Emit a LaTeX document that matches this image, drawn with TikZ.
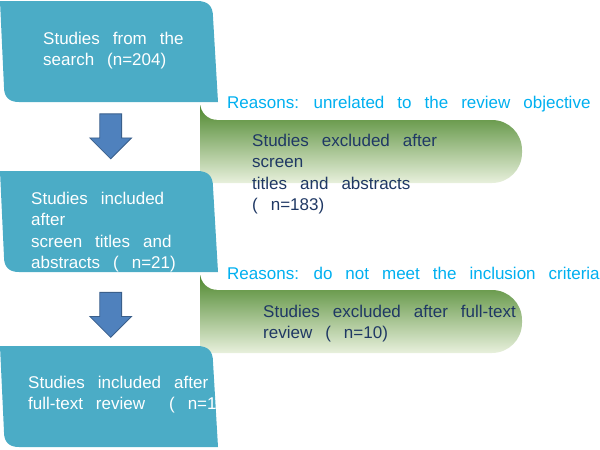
\documentclass[tikz,border=0pt]{standalone}
\usepackage{fontspec}
\setmainfont{Liberation Sans}
\usetikzlibrary{positioning, shapes.arrows}

\definecolor{cardblue}{HTML}{4BACC6}
\definecolor{arrowblue}{HTML}{4F81BD}
\definecolor{arrowline}{HTML}{3A5F8B}
\definecolor{leafdark}{RGB}{78,136,46}
\definecolor{leaflight}{RGB}{232,240,220}
\definecolor{reasonblue}{HTML}{00B0F0}
\definecolor{navytext}{HTML}{1F3864}

\newcommand{\flowfont}{\fontsize{17pt}{21.5pt}\selectfont\spaceskip=13pt plus 2pt minus 1pt\relax}

% outlines drawn from the north west corner of a named node
\newcommand{\cardshape}[1]{%
  \fill[cardblue, shift={(#1.north west)}] (0,0) -- (197,0) .. controls (208,0) and (213,5) .. (213,16)
    -- (218,101) -- (19,101) .. controls (9,101) and (4,96) .. (4,86) -- cycle;}
\newcommand{\leafshape}[1]{%
  \shade[top color=leafdark, bottom color=leaflight, shift={(#1.north west)}] (0,0) -- (30,0) -- (30,15)
    -- (292,15) .. controls (308.6,15) and (322,28.4) .. (322,45) -- (322,48)
    .. controls (322,64.6) and (308.6,78) .. (292,78) -- (8,78)
    .. controls (3.6,78) and (0,74.4) .. (0,70) -- cycle;}

\tikzset{
  card/.style       = {minimum width=218pt, minimum height=101pt, inner sep=0pt, anchor=north west},
  leaf/.style       = {minimum width=322pt, minimum height=78pt, inner sep=0pt, anchor=north west},
  reason/.style     = {fill=white, rounded corners=17pt, minimum height=32pt, inner xsep=27pt, inner ysep=0pt,
                       anchor=south west, text=reasonblue, font=\flowfont},
  flowtext/.style   = {align=left, inner sep=0pt, font=\flowfont},
  blockarrow/.style = {single arrow, shape border rotate=270, minimum height=45pt, inner xsep=10.5pt, inner ysep=0pt,
                       single arrow head extend=10pt, fill=arrowblue, draw=arrowline, line width=0.8pt}
}

\begin{document}
\begin{tikzpicture}[x=1pt, y=-1pt]
  \useasboundingbox (0,0) rectangle (600,450);

  \node[leaf] (excl1) at (200,105) {};
  \node[leaf] (excl2) at (200,275) {};
  \leafshape{excl1}
  \leafshape{excl2}
  \node[reason, above right=-15pt and 0pt of excl1.north west] (why1) {Reasons: unrelated to the review objective};
  \node[reason, above right=-15pt and 0pt of excl2.north west] (why2) {Reasons: do not meet the inclusion criteria};

  \node[card] (search)   at (0,1)   {};
  \node[card] (screened) at (0,171) {};
  \node[card] (included) at (0,346) {};
  \cardshape{search}
  \cardshape{screened}
  \cardshape{included}

  \node[blockarrow] (go1) at ([xshift=1.5pt, yshift=-28.5pt]search.south) {};
  \node[blockarrow] (go2) at ([xshift=1.5pt, yshift=-37pt]screened.south) {};

  \node[flowtext, text=white, below right=30.6pt and 43pt of search.north west] (searchtxt)
    {Studies from the\\search (n=204)};
  \node[flowtext, text=white, below right=20.6pt and 31pt of screened.north west] (screenedtxt)
    {Studies included\\after\\screen titles and\\abstracts ( n=21)};
  \node[flowtext, text=white, below right=29.6pt and 28pt of included.north west] (includedtxt)
    {Studies included after\\full-text review\hspace*{11pt} ( n=11)};
  \node[flowtext, text=navytext, below right=28.6pt and 52pt of excl1.north west] (excl1txt)
    {Studies excluded after\\screen\\titles and abstracts\\( n=183)};
  \node[flowtext, text=navytext, below right=29.6pt and 63pt of excl2.north west] (excl2txt)
    {Studies excluded after full-text\\review ( n=10)};
\end{tikzpicture}
\end{document}
